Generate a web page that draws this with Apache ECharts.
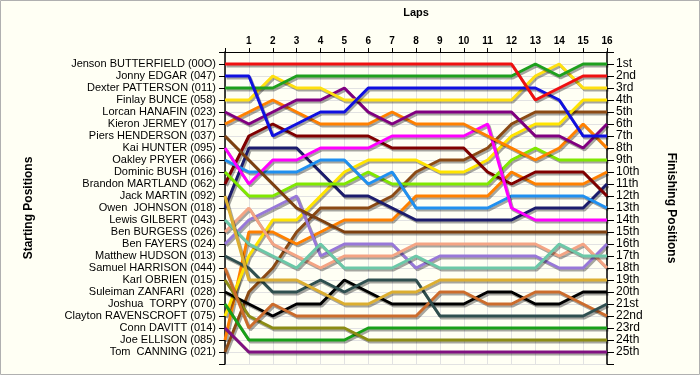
<!DOCTYPE html>
<html><head><meta charset="utf-8">
<script src="https://cdn.jsdelivr.net/npm/echarts@6/dist/echarts.min.js"></script>
<style>html,body{margin:0;padding:0;background:#fffff4;}#c{width:700px;height:375px;}</style>
</head><body><div id="c"></div>
<script>
const laps = [0,1,2,3,4,5,6,7,8,9,10,11,12,13,14,15,16];
const drivers = [
 'Jenson BUTTERFIELD (00O)','Jonny EDGAR (047)','Dexter PATTERSON (011)','Finlay BUNCE (058)',
 'Lorcan HANAFIN (023)','Kieron JERMEY (017)','Piers HENDERSON (037)','Kai HUNTER (095)',
 'Oakley PRYER (066)','Dominic BUSH (016)','Brandon MARTLAND (062)','Jack MARTIN (092)',
 'Owen  JOHNSON (018)','Lewis GILBERT (043)','Ben BURGESS (026)','Ben FAYERS (024)',
 'Matthew HUDSON (013)','Samuel HARRISON (044)','Karl OBRIEN (015)','Suleiman ZANFARI  (028)',
 'Joshua  TORPY (070)','Clayton RAVENSCROFT (075)','Conn DAVITT (014)','Joe ELLISON (085)',
 'Tom  CANNING (021)'];
const finishLabels = ['1st','2nd','3rd','4th','5th','6th','7th','8th','9th','10th','11th','12th','13th',
 '14th','15th','16th','17th','18th','19th','20th','21st','22nd','23rd','24th','25th'];
// position of each driver at the end of laps 0..16
const positions = [
 [1,1,1,1,1,1,1,1,1,1,1,1,1,4,3,2,2],
 [2,2,7,6,5,5,3,3,3,3,3,3,3,3,4,7,7],
 [3,3,3,2,2,2,2,2,2,2,2,2,2,1,2,1,1],
 [4,4,2,3,3,4,4,4,4,4,4,4,4,2,1,3,3],
 [5,6,5,4,4,3,5,6,5,5,5,5,5,7,7,8,6],
 [6,5,4,5,6,6,6,5,6,6,6,7,8,9,8,6,8],
 [7,9,11,13,14,15,15,15,15,15,15,15,15,15,15,15,15],
 [8,11,9,9,8,8,8,7,7,7,7,6,13,14,14,14,14],
 [9,10,10,10,9,9,11,10,13,13,13,13,12,12,12,12,13],
 [10,12,12,11,11,11,10,11,11,11,11,11,9,8,9,9,9],
 [11,7,6,7,7,7,7,8,8,8,8,10,11,10,10,10,12],
 [12,19,19,19,20,21,21,20,20,19,19,19,19,19,19,19,19],
 [13,8,8,8,10,12,12,13,14,14,14,14,14,13,13,13,11],
 [14,16,17,18,16,18,18,18,17,18,18,18,18,18,16,17,17],
 [15,13,16,17,18,17,17,17,16,16,16,16,16,16,17,16,18],
 [16,14,13,12,17,16,16,16,18,17,17,17,17,17,18,18,16],
 [17,18,20,20,19,20,19,19,19,22,22,22,22,22,22,22,21],
 [18,23,21,22,22,22,22,22,22,20,20,21,21,20,20,21,22],
 [19,22,23,23,23,23,24,24,24,24,24,24,24,24,24,24,24],
 [20,21,22,21,21,19,20,21,21,21,21,20,20,21,21,20,20],
 [21,24,24,24,24,24,23,23,23,23,23,23,23,23,23,23,23],
 [22,17,14,14,12,10,9,9,9,10,10,9,7,6,6,4,4],
 [23,25,25,25,25,25,25,25,25,25,25,25,25,25,25,25,25],
 [24,15,15,16,15,14,14,14,12,12,12,12,10,11,11,11,10],
 [25,20,18,15,13,13,13,12,10,9,9,8,6,5,5,5,5]
];
const colors = ['#f01010','#1010e0','#1ea01e','#ffe010','#800080','#ff8000','#7d4010','#ff00ff',
 '#2090f0','#80e800','#800000','#dcae30','#1c1c6c','#6cc8a8','#f4a484','#9878d8',
 '#2f4f4f','#cc6c2c','#8c8c14','#000000','#18a018','#ffe400','#801080','#ff8000','#8b4a14'];

const font = '"Liberation Sans", Arial, sans-serif';
const series = drivers.map((d,i)=>({
  name:d, type:'line', showSymbol:false, animation:false,
  data: laps.map((l,k)=>[l, positions[i][k]]),
  lineStyle:{color:colors[i], width:3, shadowColor:'rgba(0,0,0,0.35)', shadowOffsetX:1.5, shadowOffsetY:2, shadowBlur:0},
  itemStyle:{color:colors[i]}, z: 2 + (drivers.length - i)
}));

const chart = echarts.init(document.getElementById('c'), null, {renderer:'canvas'});
chart.setOption({
  backgroundColor:'#fffff4',
  animation:false,
  grid:{left:225, right:93, top:52, bottom:11, containLabel:false},
  graphic:[{type:'rect', shape:{x:0.5,y:0.5,width:699,height:374}, style:{fill:'none', stroke:'#b0b0b0', lineWidth:1}, silent:true}],
  xAxis:{type:'value', position:'top', min:0, max:16, interval:1,
    name:'Laps', nameLocation:'middle', nameGap:34,
    nameTextStyle:{fontFamily:font, fontWeight:'bold', fontSize:11, color:'#000'},
    axisLine:{show:true, lineStyle:{color:'#000', width:1}},
    axisTick:{show:true, length:4, lineStyle:{color:'#000'}},
    axisLabel:{fontFamily:font, fontSize:10, fontWeight:'bold', color:'#000', margin:6,
      formatter:v=> v===0 ? '' : String(v)},
    splitLine:{show:true, lineStyle:{color:'#e2e2e2', width:1}}
  },
  yAxis:[
    {type:'value', position:'left', inverse:true, min:0, max:26, interval:1,
     name:'Starting Positions', nameLocation:'middle', nameGap:190, nameRotate:90,
     nameTextStyle:{fontFamily:font, fontWeight:'bold', fontSize:12, color:'#000'},
     axisLine:{show:true, lineStyle:{color:'#000', width:1.5}},
     axisTick:{show:true, length:6, lineStyle:{color:'#000'}},
     axisLabel:{fontFamily:font, fontSize:11, color:'#000', margin:9,
       formatter:v=> drivers[v-1] || ''},
     splitLine:{show:true, lineStyle:{color:'#e2e2e2', width:1}}
    },
    {type:'value', position:'right', inverse:true, min:0, max:26, interval:1,
     name:'Finishing Positions', nameLocation:'middle', nameGap:58, nameRotate:-90,
     nameTextStyle:{fontFamily:font, fontWeight:'bold', fontSize:12, color:'#000'},
     axisLine:{show:true, lineStyle:{color:'#000', width:1.5}},
     axisTick:{show:true, length:7, lineStyle:{color:'#000'}},
     axisLabel:{fontFamily:font, fontSize:12, color:'#000', margin:9,
       formatter:v=> finishLabels[v-1] || ''},
     splitLine:{show:false}
    }
  ],
  series: series
});
</script></body></html>
